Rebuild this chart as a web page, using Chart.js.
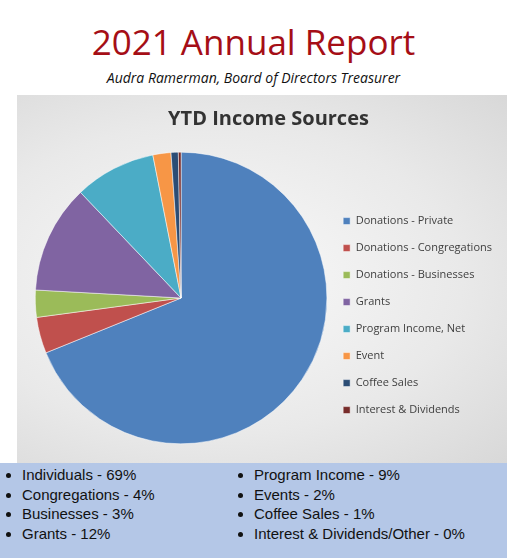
<!DOCTYPE html>
<html><head><meta charset="utf-8">
<script src="https://cdn.jsdelivr.net/npm/chart.js@4"></script>
<style>
body{margin:0;width:507px;height:558px;background:#fff;font-family:"Open Sans",Calibri,sans-serif;position:relative;overflow:hidden}
#t{position:absolute;top:18px;left:0;width:507px;text-align:center;color:#a50e16;font-size:35px;font-family:"Open Sans",sans-serif}
#s{position:absolute;top:68px;left:0;width:507px;text-align:center;font-style:italic;font-size:14px;color:#111}
#c{position:absolute;left:17px;top:95px;width:490px;height:368px;background:radial-gradient(ellipse at 40% 50%,#fafafa 0%,#e9e9e9 60%,#d8d8d8 100%)}
#b{position:absolute;left:0;top:463px;width:507px;height:95px;background:#b4c7e7;font-size:15px;color:#111;font-family:Arial,"Liberation Sans",sans-serif}
#b ul{position:absolute;top:2px;margin:0;padding-left:22px;list-style:disc;line-height:19.5px}
</style></head><body>
<div id="t">2021 Annual Report</div>
<div id="s">Audra Ramerman, Board of Directors Treasurer</div>
<div id="c"><canvas id="cv"></canvas></div>
<div id="b"><ul id="l1" style="left:0"></ul><ul id="l2" style="left:232px"></ul></div>
<script>
const categories=["Donations - Private","Donations - Congregations","Donations - Businesses","Grants","Program Income, Net","Event","Coffee Sales","Interest & Dividends"];
const values=[68.8,4,3,12,9,2,0.8,0.3];
const colors=["#4f81bd","#c0504d","#9bbb59","#8064a2","#4bacc6","#f79646","#2c4d75","#772c2a"];
const bullets1=["Individuals - 69%","Congregations - 4%","Businesses - 3%","Grants - 12%"];
const bullets2=["Program Income - 9%","Events - 2%","Coffee Sales - 1%","Interest & Dividends/Other - 0%"];
document.getElementById('l1').innerHTML=bullets1.map(x=>'<li>'+x+'</li>').join('');
document.getElementById('l2').innerHTML=bullets2.map(x=>'<li>'+x+'</li>').join('');
new Chart(document.getElementById('cv'),{type:'pie',
data:{labels:categories,datasets:[{data:values,backgroundColor:colors,borderColor:'#fff',borderWidth:0.5}]},
options:{responsive:true,maintainAspectRatio:false,animation:false,
layout:{padding:{left:18,right:5,bottom:8,top:0}},
plugins:{title:{display:true,text:'YTD Income Sources',color:'#333',font:{size:20,weight:'bold',family:'Open Sans'},padding:{top:12,bottom:10}},
legend:{position:'right',title:{display:true,text:' ',font:{size:1},padding:{top:80,bottom:0}},
labels:{boxWidth:7,boxHeight:7,padding:16,color:'#404040',font:{size:11,family:'Open Sans'}}},
tooltip:{enabled:false}}}});
</script></body></html>
